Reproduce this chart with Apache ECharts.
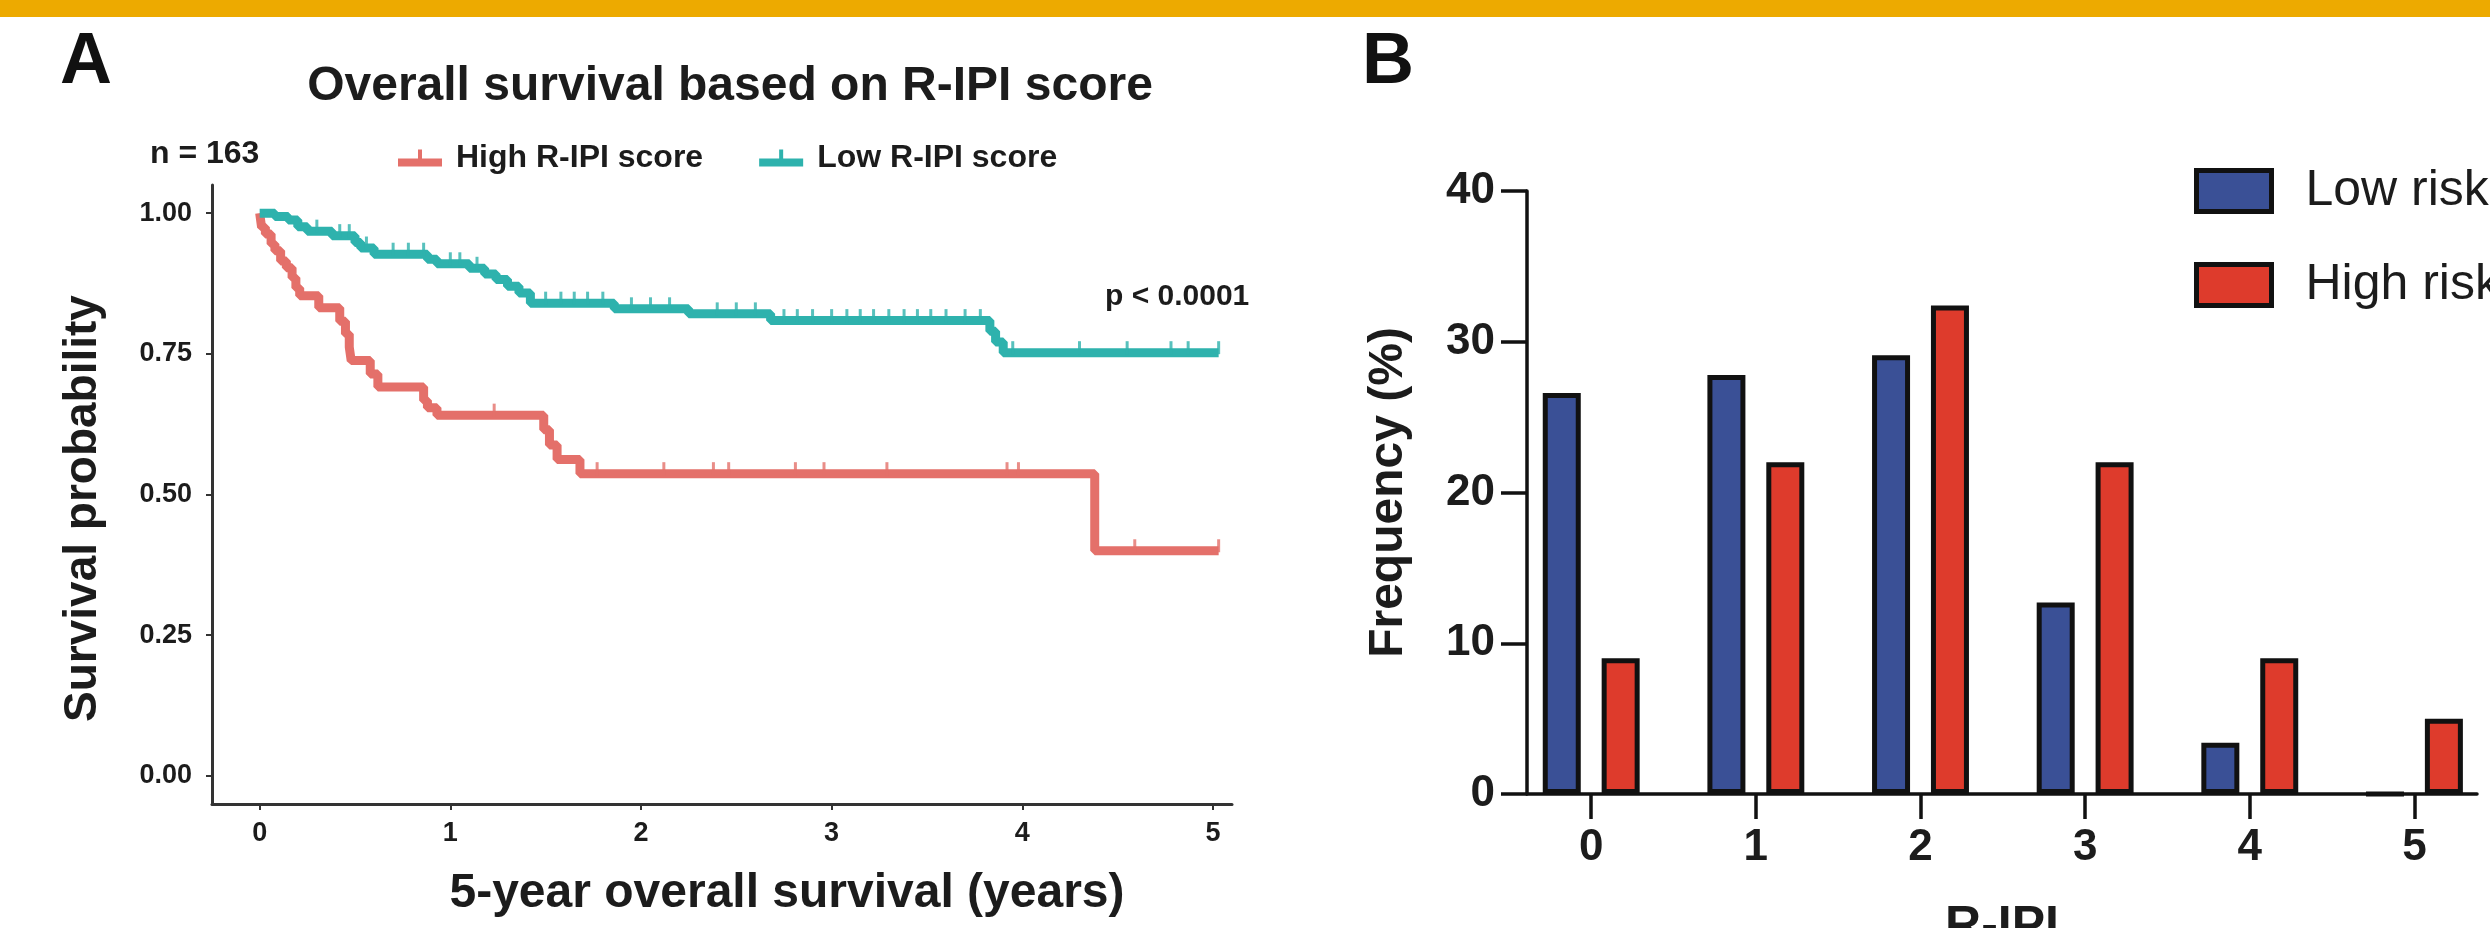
<!DOCTYPE html>
<html><head><meta charset="utf-8">
<script src="https://cdn.jsdelivr.net/npm/echarts@6/dist/echarts.min.js"></script>
<style>html,body{margin:0;padding:0;background:#fff}#c{width:2490px;height:928px}</style>
</head><body><div id="c"></div>
<script>
// ---- Panel A: Kaplan-Meier ----
const kmYearTicks = [0, 1, 2, 3, 4, 5];
const kmProbTicks = [0, 0.25, 0.5, 0.75, 1];
const highTimes = [0, 0.01, 0.03, 0.06, 0.08, 0.11, 0.14, 0.17, 0.19, 0.21, 0.31, 0.42, 0.45, 0.47, 0.48, 0.58, 0.62, 0.86, 0.88, 0.93, 1.49, 1.52, 1.56, 1.68, 4.38, 5.03];
const highSurv  = [1, 0.975, 0.963, 0.945, 0.933, 0.915, 0.903, 0.885, 0.867, 0.853, 0.832, 0.808, 0.785, 0.762, 0.738, 0.714, 0.691, 0.667, 0.654, 0.641, 0.615, 0.588, 0.562, 0.537, 0.40, 0.40];
const lowTimes  = [0, 0.08, 0.15, 0.2, 0.25, 0.38, 0.5, 0.53, 0.6, 0.88, 0.93, 1.1, 1.18, 1.24, 1.3, 1.36, 1.42, 1.86, 2.25, 2.68, 3.83, 3.86, 3.9, 5.03];
const lowSurv   = [1, 0.994, 0.988, 0.976, 0.968, 0.96, 0.948, 0.938, 0.927, 0.918, 0.91, 0.902, 0.892, 0.882, 0.87, 0.858, 0.84, 0.83, 0.821, 0.809, 0.79, 0.771, 0.752, 0.752];
const highCensor = [1.23, 1.77, 2.12, 2.38, 2.46, 2.81, 2.96, 3.29, 3.92, 3.98, 4.59, 5.03];
const lowCensor  = [0.3, 0.42, 0.47, 0.56, 0.7, 0.78, 0.86, 1.0, 1.05, 1.14, 1.5, 1.58, 1.65, 1.72, 1.8, 1.95, 2.05, 2.15, 2.4, 2.5, 2.6, 2.75, 2.82, 2.9, 3.0, 3.08, 3.15, 3.22, 3.3, 3.38, 3.45, 3.52, 3.6, 3.7, 3.78, 3.95, 4.3, 4.55, 4.78, 4.87, 5.03];

// ---- Panel B: frequency bars ----
const ripiCats = [0, 1, 2, 3, 4, 5];
const lowRisk  = [26.6, 27.8, 29.1, 12.7, 3.4, 0];
const highRisk = [9.0, 22.0, 32.4, 22.0, 9.0, 5.0];

const RED = '#E4706A', TEAL = '#2EB2AD', BLUE = '#3A5096', BRED = '#DE3B2C';
const FONT = '"Liberation Sans", Arial, Helvetica, sans-serif';
const TXT = '#1c1c1c';

function zip(a, b) { return a.map((v, i) => [v, b[i]]); }
function survAt(times, surv, t) {
  let s = surv[0];
  for (let i = 0; i < times.length; i++) { if (times[i] <= t) s = surv[i]; }
  return s;
}

const chart = echarts.init(document.getElementById('c'), null, {renderer: 'canvas'});
const legendIcon = 'path://M0,9 L44,9 L44,17 L0,17 Z M20,0 L24,0 L24,9 L20,9 Z';

chart.setOption({
  backgroundColor: '#ffffff',
  animation: false,
  textStyle: {fontFamily: FONT},
  title: {
    text: 'Overall survival based on R-IPI score',
    left: 725, top: 57, textAlign: 'center',
    textStyle: {fontFamily: FONT, fontSize: 48, fontWeight: 'bold', color: TXT, lineHeight: 50}
  },
  legend: [{
    data: ['High R-IPI score', 'Low R-IPI score'],
    left: 398, top: 142, padding: 0,
    itemWidth: 44, itemHeight: 17, itemGap: 56,
    icon: legendIcon,
    textStyle: {fontFamily: FONT, fontSize: 32, fontWeight: 'bold', color: TXT, padding: [0, 0, 0, 9]}
  }, {
    data: ['Low risk', 'High risk'],
    orient: 'vertical', left: 2194, top: 166, padding: 0,
    itemWidth: 75, itemHeight: 41, itemGap: 44,
    icon: 'rect',
    itemStyle: {borderColor: '#111', borderWidth: 5},
    textStyle: {fontFamily: FONT, fontSize: 50, fontWeight: 'normal', color: TXT, padding: [0, 0, 0, 29]}
  }],
  grid: [
    {left: 212, top: 185, width: 1020, height: 619, containLabel: false, outerBoundsMode: 'none'},
    {left: 1527, top: 191, width: 950, height: 603, containLabel: false, outerBoundsMode: 'none'}
  ],
  xAxis: [{
    type: 'value', gridIndex: 0, min: -0.25, max: 5.1,
    axisLine: {show: true, onZero: false, lineStyle: {color: '#333', width: 3}},
    axisTick: {show: true, customValues: kmYearTicks, length: 6, lineStyle: {color: '#333', width: 2}},
    axisLabel: {customValues: kmYearTicks, fontSize: 27, fontWeight: 'bold', color: TXT, margin: 16, fontFamily: FONT},
    splitLine: {show: false},
    name: '5-year overall survival (years)', nameLocation: 'middle', nameGap: 66,
    nameTextStyle: {fontFamily: FONT, fontSize: 48, fontWeight: 'bold', color: TXT, padding: [0, 0, 0, 130]}
  }, {
    type: 'value', gridIndex: 1, min: -0.39, max: 5.38,
    axisLine: {show: true, onZero: false, lineStyle: {color: '#111', width: 3.5}},
    axisTick: {show: true, customValues: ripiCats, length: 25, lineStyle: {color: '#111', width: 3.5}},
    axisLabel: {customValues: ripiCats, fontSize: 44, fontWeight: 'bold', color: TXT, margin: 32, fontFamily: FONT},
    splitLine: {show: false},
    name: 'R-IPI', nameLocation: 'middle', nameGap: 108,
    nameTextStyle: {fontFamily: FONT, fontSize: 50, fontWeight: 'bold', color: TXT}
  }],
  yAxis: [{
    type: 'value', gridIndex: 0, min: -0.05, max: 1.05,
    axisLine: {show: true, onZero: false, lineStyle: {color: '#333', width: 3}},
    axisTick: {show: true, customValues: kmProbTicks, length: 6, lineStyle: {color: '#333', width: 2}},
    axisLabel: {customValues: kmProbTicks, formatter: v => v.toFixed(2), fontSize: 27, fontWeight: 'bold', color: TXT, margin: 20, fontFamily: FONT},
    splitLine: {show: false},
    name: 'Survival probability', nameLocation: 'middle', nameGap: 106,
    nameTextStyle: {fontFamily: FONT, fontSize: 46, fontWeight: 'bold', color: TXT, padding: [0, 28, 0, 0]}
  }, {
    type: 'value', gridIndex: 1, min: 0, max: 40, interval: 10,
    axisLine: {show: true, onZero: false, lineStyle: {color: '#111', width: 3.5}},
    axisTick: {show: true, length: 26, lineStyle: {color: '#111', width: 3.5}},
    axisLabel: {fontSize: 44, fontWeight: 'bold', color: TXT, margin: 32, fontFamily: FONT},
    splitLine: {show: false},
    name: 'Frequency (%)', nameLocation: 'middle', nameGap: 114,
    nameTextStyle: {fontFamily: FONT, fontSize: 48, fontWeight: 'bold', color: TXT}
  }],
  series: [{
    name: 'High R-IPI score', type: 'line', xAxisIndex: 0, yAxisIndex: 0,
    step: 'end', symbol: 'none', data: zip(highTimes, highSurv),
    color: RED, lineStyle: {color: RED, width: 9}, z: 3
  }, {
    name: 'Low R-IPI score', type: 'line', xAxisIndex: 0, yAxisIndex: 0,
    step: 'end', symbol: 'none', data: zip(lowTimes, lowSurv),
    color: TEAL, lineStyle: {color: TEAL, width: 9}, z: 3
  }, {
    name: 'High censor', type: 'scatter', xAxisIndex: 0, yAxisIndex: 0,
    symbol: 'rect', symbolSize: [3, 13], symbolOffset: [0, -5],
    itemStyle: {color: RED}, z: 4,
    data: highCensor.map(t => [t, survAt(highTimes, highSurv, t)])
  }, {
    name: 'Low censor', type: 'scatter', xAxisIndex: 0, yAxisIndex: 0,
    symbol: 'rect', symbolSize: [3, 13], symbolOffset: [0, -5],
    itemStyle: {color: TEAL}, z: 4,
    data: lowCensor.map(t => [t, survAt(lowTimes, lowSurv, t)])
  }, {
    name: 'Low risk', type: 'bar', xAxisIndex: 1, yAxisIndex: 1,
    barWidth: 38, barGap: '55%',
    itemStyle: {color: BLUE, borderColor: '#111', borderWidth: 5},
    data: zip(ripiCats, lowRisk)
  }, {
    name: 'High risk', type: 'bar', xAxisIndex: 1, yAxisIndex: 1,
    barWidth: 38, barGap: '55%',
    itemStyle: {color: BRED, borderColor: '#111', borderWidth: 5},
    data: zip(ripiCats, highRisk)
  }],
  graphic: [
    {type: 'rect', left: 0, top: 0, shape: {width: 2490, height: 17}, style: {fill: '#EDAA00'}, silent: true},
    {type: 'text', style: {text: 'A', x: 60, y: 63, font: 'bold 72px ' + FONT, fill: '#111', textVerticalAlign: 'middle'}},
    {type: 'text', style: {text: 'B', x: 1362, y: 63, font: 'bold 72px ' + FONT, fill: '#111', textVerticalAlign: 'middle'}},
    {type: 'text', style: {text: 'n = 163', x: 150, y: 154, font: 'bold 32px ' + FONT, fill: TXT, textVerticalAlign: 'middle'}},
    {type: 'text', style: {text: 'p < 0.0001', x: 1105, y: 297, font: 'bold 30px ' + FONT, fill: TXT, textVerticalAlign: 'middle'}}
  ]
});
</script>
</body></html>
